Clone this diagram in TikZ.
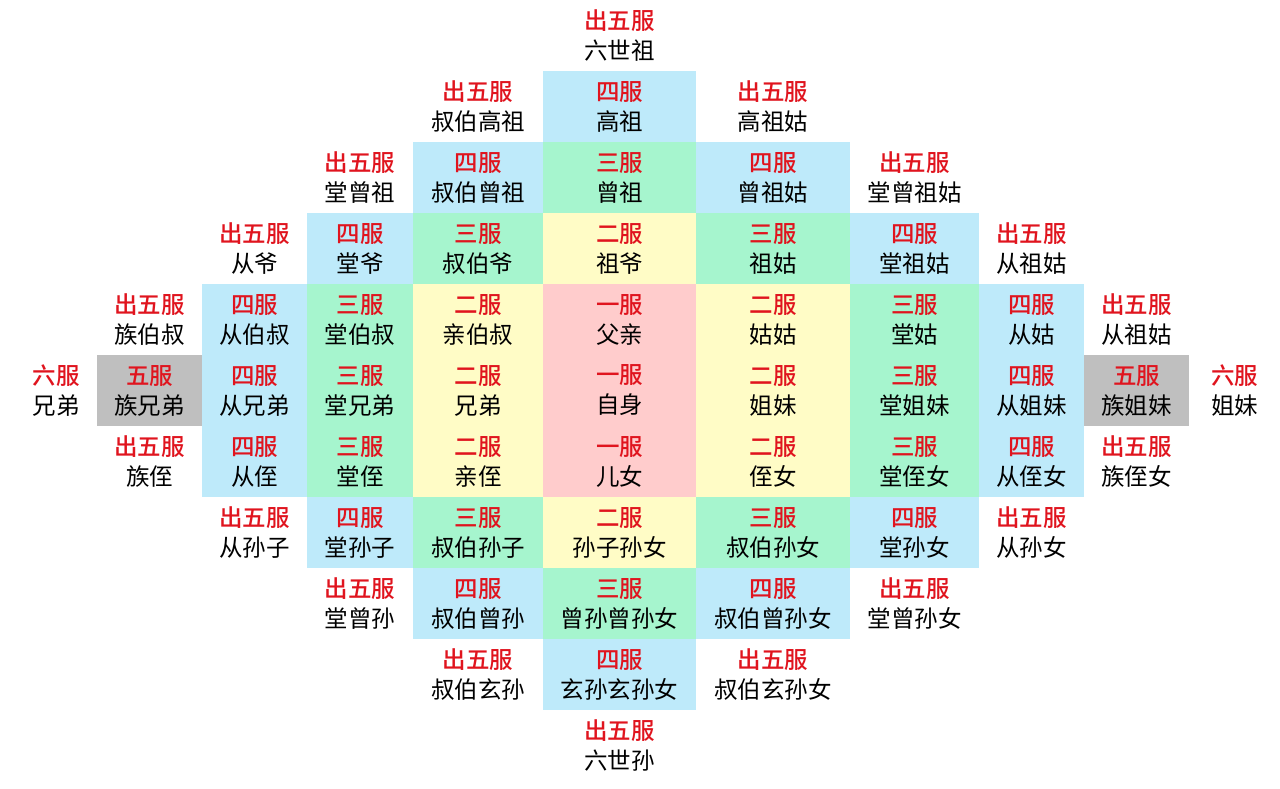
\documentclass[tikz,border=0pt]{standalone}
\usepackage{fontspec}
\newfontfamily\cjk{Noto Sans CJK SC}[BoldFont={* Medium}]
\definecolor{fuRed}{HTML}{E0141E}
\definecolor{fuBlue}{HTML}{BEEAFA}
\definecolor{fuGreen}{HTML}{A6F5CE}
\definecolor{fuYellow}{HTML}{FFFCC6}
\definecolor{fuPink}{HTML}{FFCCCC}
\definecolor{fuGray}{HTML}{BFBFBF}
\tikzset{cellbox/.style={inner sep=0pt, minimum height=71pt, align=center,
  font=\cjk\fontsize{23.5}{30}\selectfont, text=black}}
% name, x-center, width, row, fill, red text, black text
\newcommand\fucell[7]{\node[cellbox, fill=#5, minimum width=#3pt] (#1) at (#2,{71*#4+35.5}) {{\color{fuRed}\bfseries #6}\\#7};}
\begin{document}
\begin{tikzpicture}[x=1pt,y=-1pt]
\fill[white] (0,0) rectangle (1280,788);
\useasboundingbox (0,0) rectangle (1280,788);
% row 0
\fucell{r0c5}{619.5}{153}{0}{none}{出五服}{六世祖}
% row 1
\fucell{r1c4}{478}{130}{1}{none}{出五服}{叔伯高祖}
\fucell{r1c5}{619.5}{153}{1}{fuBlue}{四服}{高祖}
\fucell{r1c6}{773}{154}{1}{none}{出五服}{高祖姑}
% row 2
\fucell{r2c3}{360}{106}{2}{none}{出五服}{堂曾祖}
\fucell{r2c4}{478}{130}{2}{fuBlue}{四服}{叔伯曾祖}
\fucell{r2c5}{619.5}{153}{2}{fuGreen}{三服}{曾祖}
\fucell{r2c6}{773}{154}{2}{fuBlue}{四服}{曾祖姑}
\fucell{r2c7}{914.5}{129}{2}{none}{出五服}{堂曾祖姑}
% row 3
\fucell{r3c2}{254.5}{105}{3}{none}{出五服}{从爷}
\fucell{r3c3}{360}{106}{3}{fuBlue}{四服}{堂爷}
\fucell{r3c4}{478}{130}{3}{fuGreen}{三服}{叔伯爷}
\fucell{r3c5}{619.5}{153}{3}{fuYellow}{二服}{祖爷}
\fucell{r3c6}{773}{154}{3}{fuGreen}{三服}{祖姑}
\fucell{r3c7}{914.5}{129}{3}{fuBlue}{四服}{堂祖姑}
\fucell{r3c8}{1031.5}{105}{3}{none}{出五服}{从祖姑}
% row 4
\fucell{r4c1}{149.5}{105}{4}{none}{出五服}{族伯叔}
\fucell{r4c2}{254.5}{105}{4}{fuBlue}{四服}{从伯叔}
\fucell{r4c3}{360}{106}{4}{fuGreen}{三服}{堂伯叔}
\fucell{r4c4}{478}{130}{4}{fuYellow}{二服}{亲伯叔}
\fucell{r4c5}{619.5}{153}{4}{fuPink}{一服}{父亲}
\fucell{r4c6}{773}{154}{4}{fuYellow}{二服}{姑姑}
\fucell{r4c7}{914.5}{129}{4}{fuGreen}{三服}{堂姑}
\fucell{r4c8}{1031.5}{105}{4}{fuBlue}{四服}{从姑}
\fucell{r4c9}{1136.5}{105}{4}{none}{出五服}{从祖姑}
% row 5
\fucell{r5c0}{56}{90}{5}{none}{六服}{兄弟}
\fucell{r5c1}{149.5}{105}{5}{fuGray}{五服}{族兄弟}
\fucell{r5c2}{254.5}{105}{5}{fuBlue}{四服}{从兄弟}
\fucell{r5c3}{360}{106}{5}{fuGreen}{三服}{堂兄弟}
\fucell{r5c4}{478}{130}{5}{fuYellow}{二服}{兄弟}
\fucell{r5c5}{619.5}{153}{5}{fuPink}{一服}{自身}
\fucell{r5c6}{773}{154}{5}{fuYellow}{二服}{姐妹}
\fucell{r5c7}{914.5}{129}{5}{fuGreen}{三服}{堂姐妹}
\fucell{r5c8}{1031.5}{105}{5}{fuBlue}{四服}{从姐妹}
\fucell{r5c9}{1136.5}{105}{5}{fuGray}{五服}{族姐妹}
\fucell{r5c10}{1234.5}{91}{5}{none}{六服}{姐妹}
% row 6
\fucell{r6c1}{149.5}{105}{6}{none}{出五服}{族侄}
\fucell{r6c2}{254.5}{105}{6}{fuBlue}{四服}{从侄}
\fucell{r6c3}{360}{106}{6}{fuGreen}{三服}{堂侄}
\fucell{r6c4}{478}{130}{6}{fuYellow}{二服}{亲侄}
\fucell{r6c5}{619.5}{153}{6}{fuPink}{一服}{儿女}
\fucell{r6c6}{773}{154}{6}{fuYellow}{二服}{侄女}
\fucell{r6c7}{914.5}{129}{6}{fuGreen}{三服}{堂侄女}
\fucell{r6c8}{1031.5}{105}{6}{fuBlue}{四服}{从侄女}
\fucell{r6c9}{1136.5}{105}{6}{none}{出五服}{族侄女}
% row 7
\fucell{r7c2}{254.5}{105}{7}{none}{出五服}{从孙子}
\fucell{r7c3}{360}{106}{7}{fuBlue}{四服}{堂孙子}
\fucell{r7c4}{478}{130}{7}{fuGreen}{三服}{叔伯孙子}
\fucell{r7c5}{619.5}{153}{7}{fuYellow}{二服}{孙子孙女}
\fucell{r7c6}{773}{154}{7}{fuGreen}{三服}{叔伯孙女}
\fucell{r7c7}{914.5}{129}{7}{fuBlue}{四服}{堂孙女}
\fucell{r7c8}{1031.5}{105}{7}{none}{出五服}{从孙女}
% row 8
\fucell{r8c3}{360}{106}{8}{none}{出五服}{堂曾孙}
\fucell{r8c4}{478}{130}{8}{fuBlue}{四服}{叔伯曾孙}
\fucell{r8c5}{619.5}{153}{8}{fuGreen}{三服}{曾孙曾孙女}
\fucell{r8c6}{773}{154}{8}{fuBlue}{四服}{叔伯曾孙女}
\fucell{r8c7}{914.5}{129}{8}{none}{出五服}{堂曾孙女}
% row 9
\fucell{r9c4}{478}{130}{9}{none}{出五服}{叔伯玄孙}
\fucell{r9c5}{619.5}{153}{9}{fuBlue}{四服}{玄孙玄孙女}
\fucell{r9c6}{773}{154}{9}{none}{出五服}{叔伯玄孙女}
% row 10
\fucell{r10c5}{619.5}{153}{10}{none}{出五服}{六世孙}
\end{tikzpicture}
\end{document}
